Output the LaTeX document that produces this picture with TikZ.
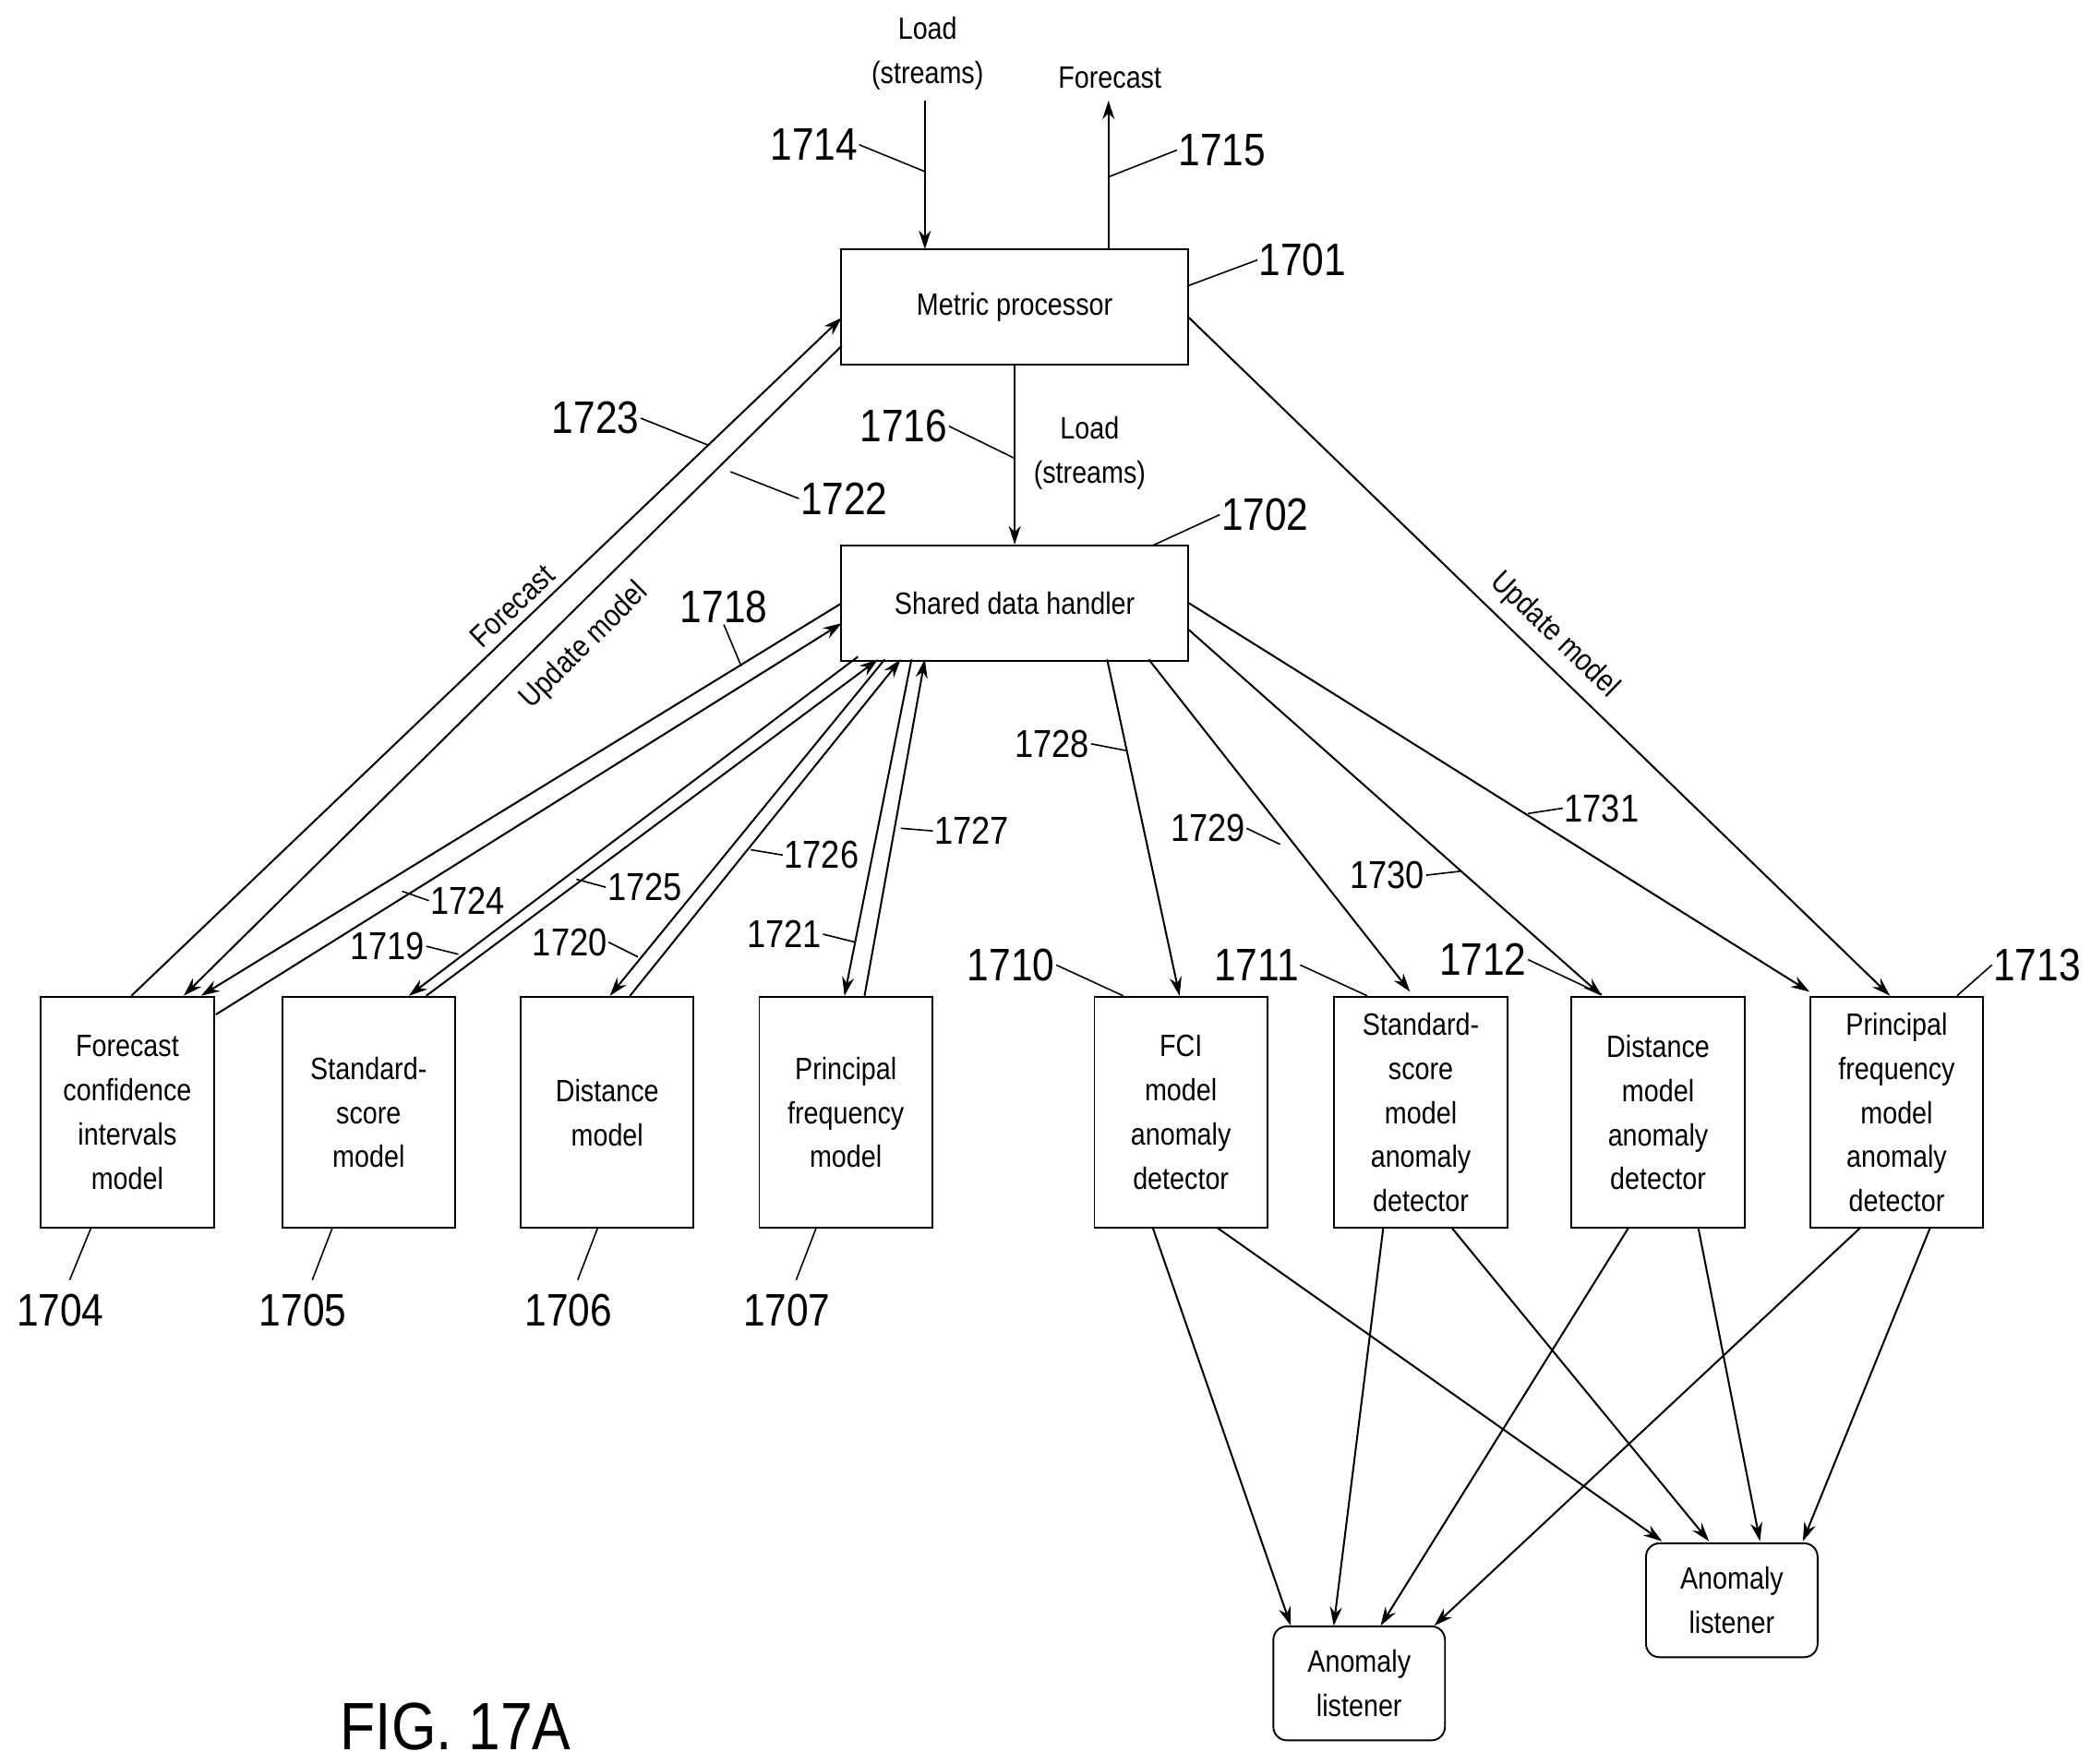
\documentclass[tikz,border=0pt]{standalone}
\usepackage{fontspec}
\setmainfont{Liberation Sans}[FakeStretch=0.86]
\usetikzlibrary{arrows.meta}
\tikzset{
  box/.style={draw, line width=1.3pt, minimum width=129pt, minimum height=172pt, align=center, inner sep=2pt, font=\fontsize{23}{33}\selectfont},
  wbox/.style={draw, line width=1.3pt, minimum width=259pt, minimum height=86pt, font=\fontsize{23}{28}\selectfont},
  lbox/.style={draw, line width=1.3pt, rounded corners=10pt, minimum width=128pt, minimum height=85pt, align=center, font=\fontsize{23}{33}\selectfont},
  arr/.style={line width=1.4pt, -{Stealth[length=14pt,width=9pt]}},
  txt/.style={font=\fontsize{23}{33}\selectfont, align=center},
  num/.style={font=\fontsize{34}{34}\selectfont, inner sep=1pt},
  snum/.style={font=\fontsize{29}{29}\selectfont, inner sep=1pt},
  lead/.style={line width=1.1pt}
}
\begin{document}
\begin{tikzpicture}[x=1pt,y=-1pt]
\useasboundingbox (0,0) rectangle (1560,1316);
% main boxes
\node (mp) [wbox] at (757,229) {Metric processor};
\node (sdh) [wbox] at (757,450) {Shared data handler};
\node (fci) [box] at (95,830) {Forecast\\confidence\\intervals\\model};
\node (ss) [box] at (275,830) {Standard-\\score\\model};
\node (dm) [box] at (453,830) {Distance\\model};
\node (pf) [box] at (631,830) {Principal\\frequency\\model};
\node (fcid) [box] at (881,830) {FCI\\model\\anomaly\\detector};
\node (ssd) [box] at (1060,830) {Standard-\\score\\model\\anomaly\\detector};
\node (dmd) [box] at (1237,830) {Distance\\model\\anomaly\\detector};
\node (pfd) [box] at (1415,830) {Principal\\frequency\\model\\anomaly\\detector};
\node (alA) [lbox] at (1014,1256) {Anomaly\\listener};
\node (alB) [lbox] at (1292,1194) {Anomaly\\listener};
% input / output
\node (in) [txt] at (692,40) {Load\\(streams)};
\node (out) [txt] at (828,58) {Forecast};
\coordinate (inT) at (690,75);
\coordinate (outT) at (827,75);
\draw [arr] (inT) -- (690,186);
\draw [arr] (827,186) -- (outT);
\draw [arr] (mp) -- (sdh);
\node [txt] at (813,338) {Load\\(streams)};
% metric processor links
\draw [arr] (98,743) -- (628,237);
\draw [arr] (628,258) -- (137,743);
\draw [arr] (887,237) -- (1410,743);
\node [txt, rotate=43.7] at (382,452) {Forecast};
\node [txt, rotate=44.7] at (436,482) {Update model};
\node [txt, rotate=-44] at (1160,474) {Update model};
% model links
\draw [arr] (628,450) -- (150,743);
\draw [arr] (161,757) -- (628,465);
\draw [arr] (640,490) -- (305,743);
\draw [arr] (318,743) -- (655,492);
\draw [arr] (660,492) -- (455,743);
\draw [arr] (470,743) -- (672,492);
\draw [arr] (680,492) -- (630,743);
\draw [arr] (645,743) -- (690,492);
% detector links
\draw [arr] (826,492) -- (880,743);
\draw [arr] (857,492) -- (1052,740);
\draw [arr] (887,470) -- (1195,743);
\draw [arr] (887,450) -- (1350,740);
% listener links
\draw [arr] (860,916) -- (963,1213);
\draw [arr] (908,916) -- (1240,1150);
\draw [arr] (1032,916) -- (995,1213);
\draw [arr] (1083,916) -- (1275,1150);
\draw [arr] (1215,916) -- (1030,1213);
\draw [arr] (1267,916) -- (1313,1150);
\draw [arr] (1388,916) -- (1070,1213);
\draw [arr] (1440,916) -- (1345,1150);
% reference numerals
\node (n1714) [num, anchor=east] at (641,108) {1714};
\draw [lead] (n1714.east) -- (690,128);
\node (n1715) [num, anchor=west] at (878,112) {1715};
\draw [lead] (n1715.west) -- (827,132);
\node (n1701) [num, anchor=west] at (938,194) {1701};
\draw [lead] (n1701.west) -- (887,213);
\node (n1716) [num, anchor=east] at (708,318) {1716};
\draw [lead] (n1716.east) -- (757,342);
\node (n1702) [num, anchor=west] at (910,384) {1702};
\draw [lead] (n1702.west) -- (860,407);
\node (n1723) [num, anchor=east] at (478,312) {1723};
\draw [lead] (n1723.east) -- (528,332);
\node (n1722) [num, anchor=west] at (596,372) {1722};
\draw [lead] (n1722.west) -- (545,352);
\node (n1718) [num, anchor=south] at (540,466) {1718};
\draw [lead] (n1718.south) -- (553,497);
\node (n1724) [snum, anchor=west] at (320,672) {1724};
\draw [lead] (n1724.west) -- (300,665);
\node (n1719) [snum, anchor=east] at (318,706) {1719};
\draw [lead] (n1719.east) -- (342,712);
\node (n1725) [snum, anchor=west] at (452,662) {1725};
\draw [lead] (n1725.west) -- (430,656);
\node (n1720) [snum, anchor=east] at (454,703) {1720};
\draw [lead] (n1720.east) -- (476,714);
\node (n1726) [snum, anchor=west] at (584,638) {1726};
\draw [lead] (n1726.west) -- (560,634);
\node (n1721) [snum, anchor=east] at (614,697) {1721};
\draw [lead] (n1721.east) -- (638,703);
\node (n1727) [snum, anchor=west] at (696,620) {1727};
\draw [lead] (n1727.west) -- (672,618);
\node (n1728) [snum, anchor=east] at (814,555) {1728};
\draw [lead] (n1728.east) -- (840,560);
\node (n1729) [snum, anchor=east] at (930,618) {1729};
\draw [lead] (n1729.east) -- (955,630);
\node (n1730) [snum, anchor=east] at (1064,653) {1730};
\draw [lead] (n1730.east) -- (1090,650);
\node (n1731) [snum, anchor=west] at (1166,603) {1731};
\draw [lead] (n1731.west) -- (1140,607);
\node (n1710) [num, anchor=east] at (788,720) {1710};
\draw [lead] (n1710.east) -- (838,743);
\node (n1711) [num, anchor=east] at (970,720) {1711};
\draw [lead] (n1711.east) -- (1020,743);
\node (n1712) [num, anchor=east] at (1140,716) {1712};
\draw [lead] (n1712.east) -- (1195,742);
\node (n1713) [num, anchor=west] at (1486,720) {1713};
\draw [lead] (n1713.west) -- (1460,743);
\node (n1704) [num] at (45,978) {1704};
\draw [lead] (68,916) -- (52,955);
\node (n1705) [num] at (226,978) {1705};
\draw [lead] (248,916) -- (233,955);
\node (n1706) [num] at (424,978) {1706};
\draw [lead] (446,916) -- (431,955);
\node (n1707) [num] at (587,978) {1707};
\draw [lead] (609,916) -- (594,955);
\node [font=\fontsize{50}{50}\selectfont] at (340,1288) {FIG. 17A};
\end{tikzpicture}
\end{document}
